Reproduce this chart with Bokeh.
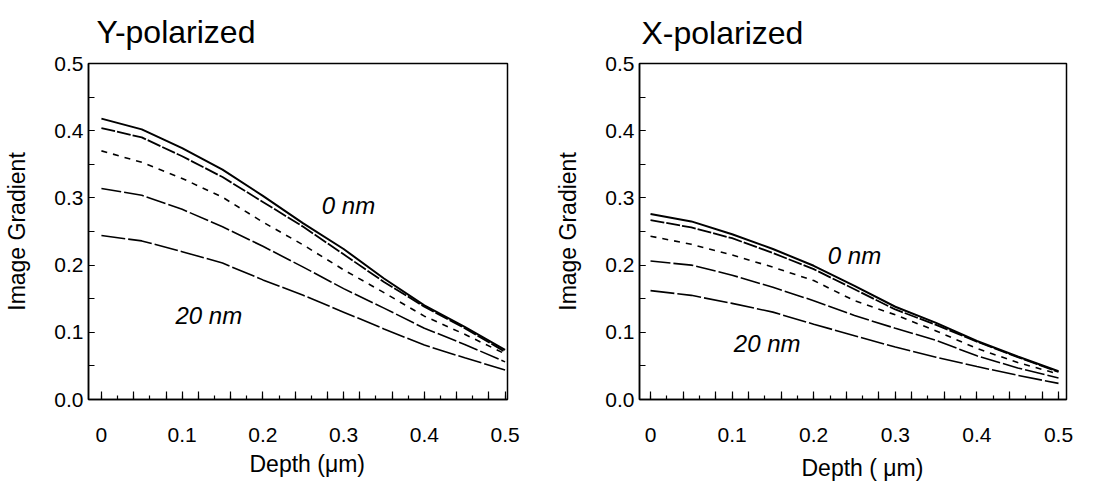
from bokeh.plotting import figure
from bokeh.layouts import row
from bokeh.models import Label, FixedTicker, Title
from bokeh.embed import file_html
from bokeh.resources import INLINE

depth = [0.0, 0.05, 0.1, 0.15, 0.2, 0.25, 0.3, 0.35, 0.4, 0.45, 0.5]

# Y-polarized
y_c1 = [0.418, 0.402, 0.374, 0.342, 0.303, 0.262, 0.224, 0.180, 0.140, 0.108, 0.074]
y_c2 = [0.404, 0.390, 0.362, 0.331, 0.294, 0.257, 0.216, 0.175, 0.138, 0.106, 0.071]
y_c3 = [0.370, 0.353, 0.329, 0.301, 0.264, 0.230, 0.193, 0.159, 0.124, 0.097, 0.068]
y_c4 = [0.314, 0.304, 0.283, 0.257, 0.228, 0.197, 0.165, 0.136, 0.106, 0.082, 0.056]
y_c5 = [0.244, 0.236, 0.220, 0.203, 0.178, 0.155, 0.130, 0.105, 0.081, 0.062, 0.044]

# X-polarized
x_c1 = [0.276, 0.265, 0.246, 0.224, 0.199, 0.169, 0.138, 0.114, 0.087, 0.064, 0.042]
x_c2 = [0.267, 0.256, 0.240, 0.218, 0.194, 0.164, 0.134, 0.111, 0.086, 0.063, 0.041]
x_c3 = [0.243, 0.231, 0.215, 0.197, 0.177, 0.147, 0.126, 0.102, 0.076, 0.055, 0.038]
x_c4 = [0.206, 0.200, 0.185, 0.167, 0.147, 0.125, 0.106, 0.088, 0.065, 0.047, 0.032]
x_c5 = [0.162, 0.155, 0.143, 0.130, 0.112, 0.095, 0.078, 0.063, 0.049, 0.036, 0.024]

titles = ["Y-polarized", "X-polarized"]
x_labels = ["Depth (\u03bcm)", "Depth ( \u03bcm)"]
y_label = "Image Gradient"
x_tick_labels = ["0", "0.1", "0.2", "0.3", "0.4", "0.5"]
y_tick_labels = ["0.0", "0.1", "0.2", "0.3", "0.4", "0.5"]
annot_text = ["0 nm", "20 nm"]
annot_y_pol = [(0.306, 0.289), (0.133, 0.125)]
annot_x_pol = [(0.25, 0.215), (0.143, 0.084)]

FONT = "Liberation Sans"
dashes = ["solid", "14 2", "6 6", "20 3", "24 3"]
widths = [2.0, 1.8, 1.6, 1.6, 1.6]


def make(title, xlabel, series, annots, width, xr, bl, br, bt, bb,
         t_off, t_stand, xl_off, xl_stand):
    p = figure(width=width, height=496, x_range=xr, y_range=(0, 0.5),
               output_backend="svg", toolbar_location=None,
               min_border_left=bl, min_border_right=br,
               min_border_top=bt, min_border_bottom=bb)
    p.title = Title(text=title, text_font=FONT, text_font_size="32px",
                    text_font_style="normal", text_color="black",
                    align="left", offset=t_off, vertical_align="top",
                    standoff=t_stand)
    p.grid.visible = False
    p.outline_line_color = "black"
    p.outline_line_width = 1.5
    p.background_fill_color = "white"
    p.border_fill_color = "white"

    for ys, d, w in zip(series, dashes, widths):
        p.line(depth, ys, line_color="black", line_width=w, line_dash=d)

    label_vals = [round(i * 0.1, 2) for i in range(6)]
    long_ticks = sorted(set([round(i * 0.04, 2) for i in range(13)] + label_vals))
    short_ticks = [round(i * 0.02, 2) for i in range(26)]
    overrides = {t: "" for t in long_ticks}
    for v, lab in zip(label_vals, x_tick_labels):
        overrides[v] = lab
    xa = p.xaxis[0]
    xa.ticker = FixedTicker(ticks=long_ticks, minor_ticks=short_ticks)
    xa.major_label_overrides = overrides
    xa.major_tick_in = 8
    xa.major_tick_out = 0
    xa.minor_tick_in = 4
    xa.minor_tick_out = 0
    xa.major_label_standoff = 28
    xa.major_label_text_font = FONT
    xa.major_label_text_font_size = "21px"
    xa.major_label_text_color = "black"
    xa.axis_line_width = 1.5
    xa.major_tick_line_width = 1.2
    xa.minor_tick_line_width = 1.2

    p.add_layout(Title(text=xlabel, text_font=FONT, text_font_size="23px",
                       text_font_style="normal", text_color="black",
                       align="left", offset=xl_off, vertical_align="bottom",
                       standoff=xl_stand), "below")

    ya = p.yaxis[0]
    yvals = [round(i * 0.1, 2) for i in range(6)]
    ya.ticker = FixedTicker(ticks=yvals, minor_ticks=[round(i * 0.05, 2) for i in range(11)])
    ya.major_label_overrides = {v: lab for v, lab in zip(yvals, y_tick_labels)}
    ya.major_tick_in = 6
    ya.major_tick_out = 0
    ya.minor_tick_in = 6
    ya.minor_tick_out = 0
    ya.major_label_standoff = 5
    ya.axis_label = y_label
    ya.axis_label_standoff = 21
    ya.axis_label_text_font = FONT
    ya.axis_label_text_font_size = "23px"
    ya.axis_label_text_font_style = "normal"
    ya.axis_label_text_color = "black"
    ya.major_label_text_font = FONT
    ya.major_label_text_font_size = "21px"
    ya.major_label_text_color = "black"
    ya.axis_line_width = 1.5
    ya.major_tick_line_width = 1.2
    ya.minor_tick_line_width = 1.2

    for (ax, ay), txt in zip(annots, annot_text):
        p.add_layout(Label(x=ax, y=ay, text=txt, text_font=FONT,
                           text_font_size="24px", text_font_style="italic",
                           text_color="black",
                           text_align="center", text_baseline="middle"))
    return p


p1 = make(titles[0], x_labels[0], [y_c1, y_c2, y_c3, y_c4, y_c5], annot_y_pol,
          548, (-0.016, 0.503), 88, 41, 63, 89, 8, 24, 161, 8)
p2 = make(titles[1], x_labels[1], [x_c1, x_c2, x_c3, x_c4, x_c5], annot_x_pol,
          548, (-0.0135, 0.5098), 91, 30, 61, 97, 2, 22, 162, 16)

layout = row(p1, p2)
open("out.html", "w").write(file_html(layout, INLINE))
